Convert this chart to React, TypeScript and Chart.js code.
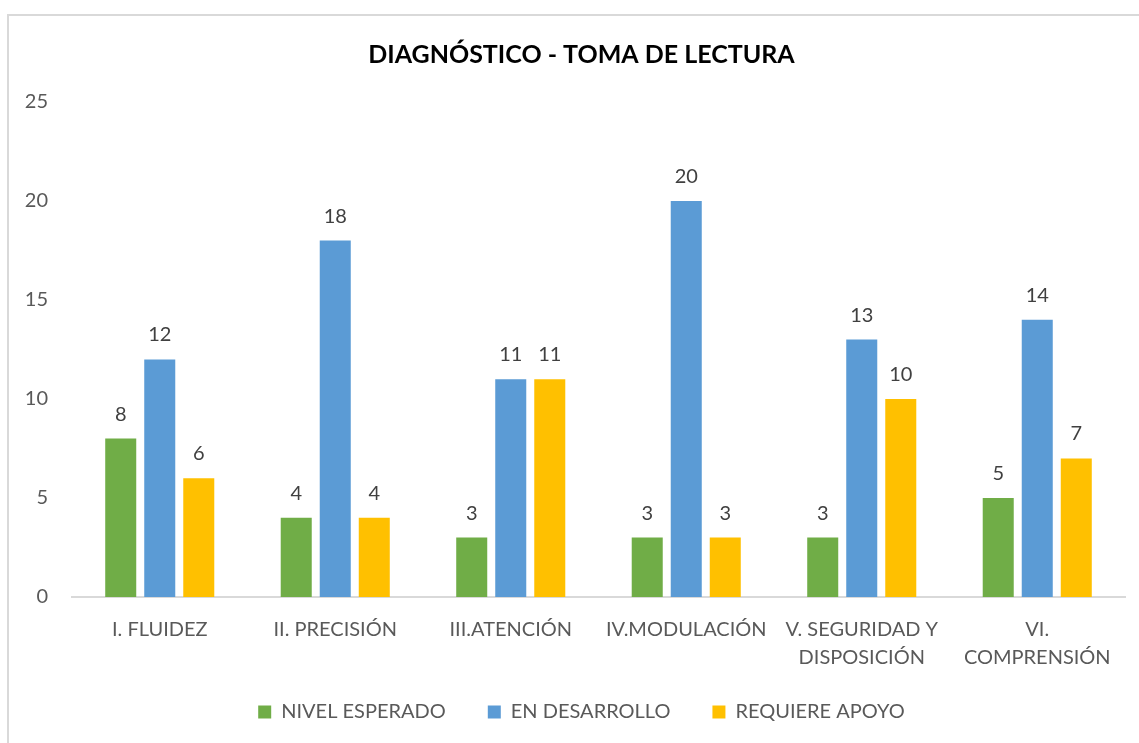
import React, { useEffect, useRef } from "react";
import { Chart, registerables } from "chart.js";

Chart.register(...registerables);

const categories: string[][] = [
  ["I. FLUIDEZ"],
  ["II. PRECISIÓN"],
  ["III.ATENCIÓN"],
  ["IV.MODULACIÓN"],
  ["V. SEGURIDAD Y", "DISPOSICIÓN"],
  ["VI.", "COMPRENSIÓN"],
];
const nivelEsperado = [8, 4, 3, 3, 3, 5];
const enDesarrollo = [12, 18, 11, 20, 13, 14];
const requiereApoyo = [6, 4, 11, 3, 10, 7];
const yTicks = [0, 5, 10, 15, 20, 25];

const FONT = "Lato, 'Open Sans', sans-serif";

const barLabels = {
  id: "barLabels",
  afterDatasetsDraw(chart: any) {
    const ctx = chart.ctx;
    ctx.save();
    ctx.font = `20px ${FONT}`;
    ctx.fillStyle = "#404040";
    ctx.textAlign = "center";
    ctx.textBaseline = "alphabetic";
    chart.data.datasets.forEach((ds: any, i: number) => {
      chart.getDatasetMeta(i).data.forEach((bar: any, j: number) => {
        ctx.fillText(String(ds.data[j]), bar.x, bar.y - 18);
      });
    });
    ctx.restore();
  },
};

// Centre title and legend on the chart object (like the original) and let
// two-line category labels overflow their box without being clipped.
const layoutTweak = {
  id: "layoutTweak",
  afterLayout(chart: any) {
    if (chart.titleBlock) chart.titleBlock.left = 38;
    if (chart.legend) chart.legend.left = 38;
    if (chart.scales.x) chart.scales.x.bottom = chart.height;
  },
};

export default function App() {
  const ref = useRef<HTMLCanvasElement | null>(null);
  useEffect(() => {
    if (!ref.current) return;
    const chart = new Chart(ref.current, {
      type: "bar",
      data: {
        labels: categories,
        datasets: [
          { label: "NIVEL ESPERADO", data: nivelEsperado, backgroundColor: "#70AD47" },
          { label: "EN DESARROLLO", data: enDesarrollo, backgroundColor: "#5B9BD5" },
          { label: "REQUIERE APOYO", data: requiereApoyo, backgroundColor: "#FFC000" },
        ],
      },
      options: {
        animation: false,
        responsive: false,
        layout: { padding: { left: 0, right: 14, top: 0, bottom: 11 } },
        datasets: { bar: { categoryPercentage: 0.667, barPercentage: 0.795 } },
        plugins: {
          title: {
            display: true,
            text: "DIAGNÓSTICO - TOMA DE LECTURA",
            color: "#000000",
            font: { family: FONT, size: 25, weight: "bold" },
            padding: { top: 40, bottom: 32 },
          },
          legend: {
            position: "bottom",
            labels: {
              color: "#595959",
              font: { family: FONT, size: 20 },
              boxWidth: 13,
              boxHeight: 13,
              padding: 42,
            },
          },
          tooltip: { enabled: false },
        },
        scales: {
          x: {
            grid: { display: false, drawTicks: false },
            border: { display: true, color: "#D9D9D9", width: 2 },
            ticks: {
              color: "#595959",
              font: { family: FONT, size: 20, lineHeight: 1.4 },
              padding: 19,
              maxRotation: 0,
              autoSkip: false,
            },
            afterFit: (scale: any) => {
              scale.height = 63;
            },
          },
          y: {
            min: 0,
            max: 25,
            afterBuildTicks: (scale: any) => {
              scale.ticks = yTicks.map((v) => ({ value: v }));
            },
            grid: { display: false, drawTicks: false },
            border: { display: false },
            ticks: {
              color: "#595959",
              font: { family: FONT, size: 20 },
              padding: 24,
            },
            afterFit: (scale: any) => {
              scale.width = 72;
            },
          },
        },
      },
      plugins: [barLabels, layoutTweak],
    });
    return () => chart.destroy();
  }, []);

  return (
    <div
      style={{
        position: "fixed",
        left: 0,
        top: 0,
        width: 1139,
        height: 743,
        overflow: "hidden",
        background: "#ffffff",
      }}
    >
      <div
        style={{
          position: "absolute",
          left: 7,
          top: 14,
          width: 1300,
          height: 900,
          borderLeft: "2px solid #D9D9D9",
          borderTop: "2px solid #D9D9D9",
        }}
      />
      <canvas
        ref={ref}
        width={1139}
        height={743}
        style={{ position: "absolute", left: 0, top: 0, width: 1139, height: 743 }}
      />
    </div>
  );
}
